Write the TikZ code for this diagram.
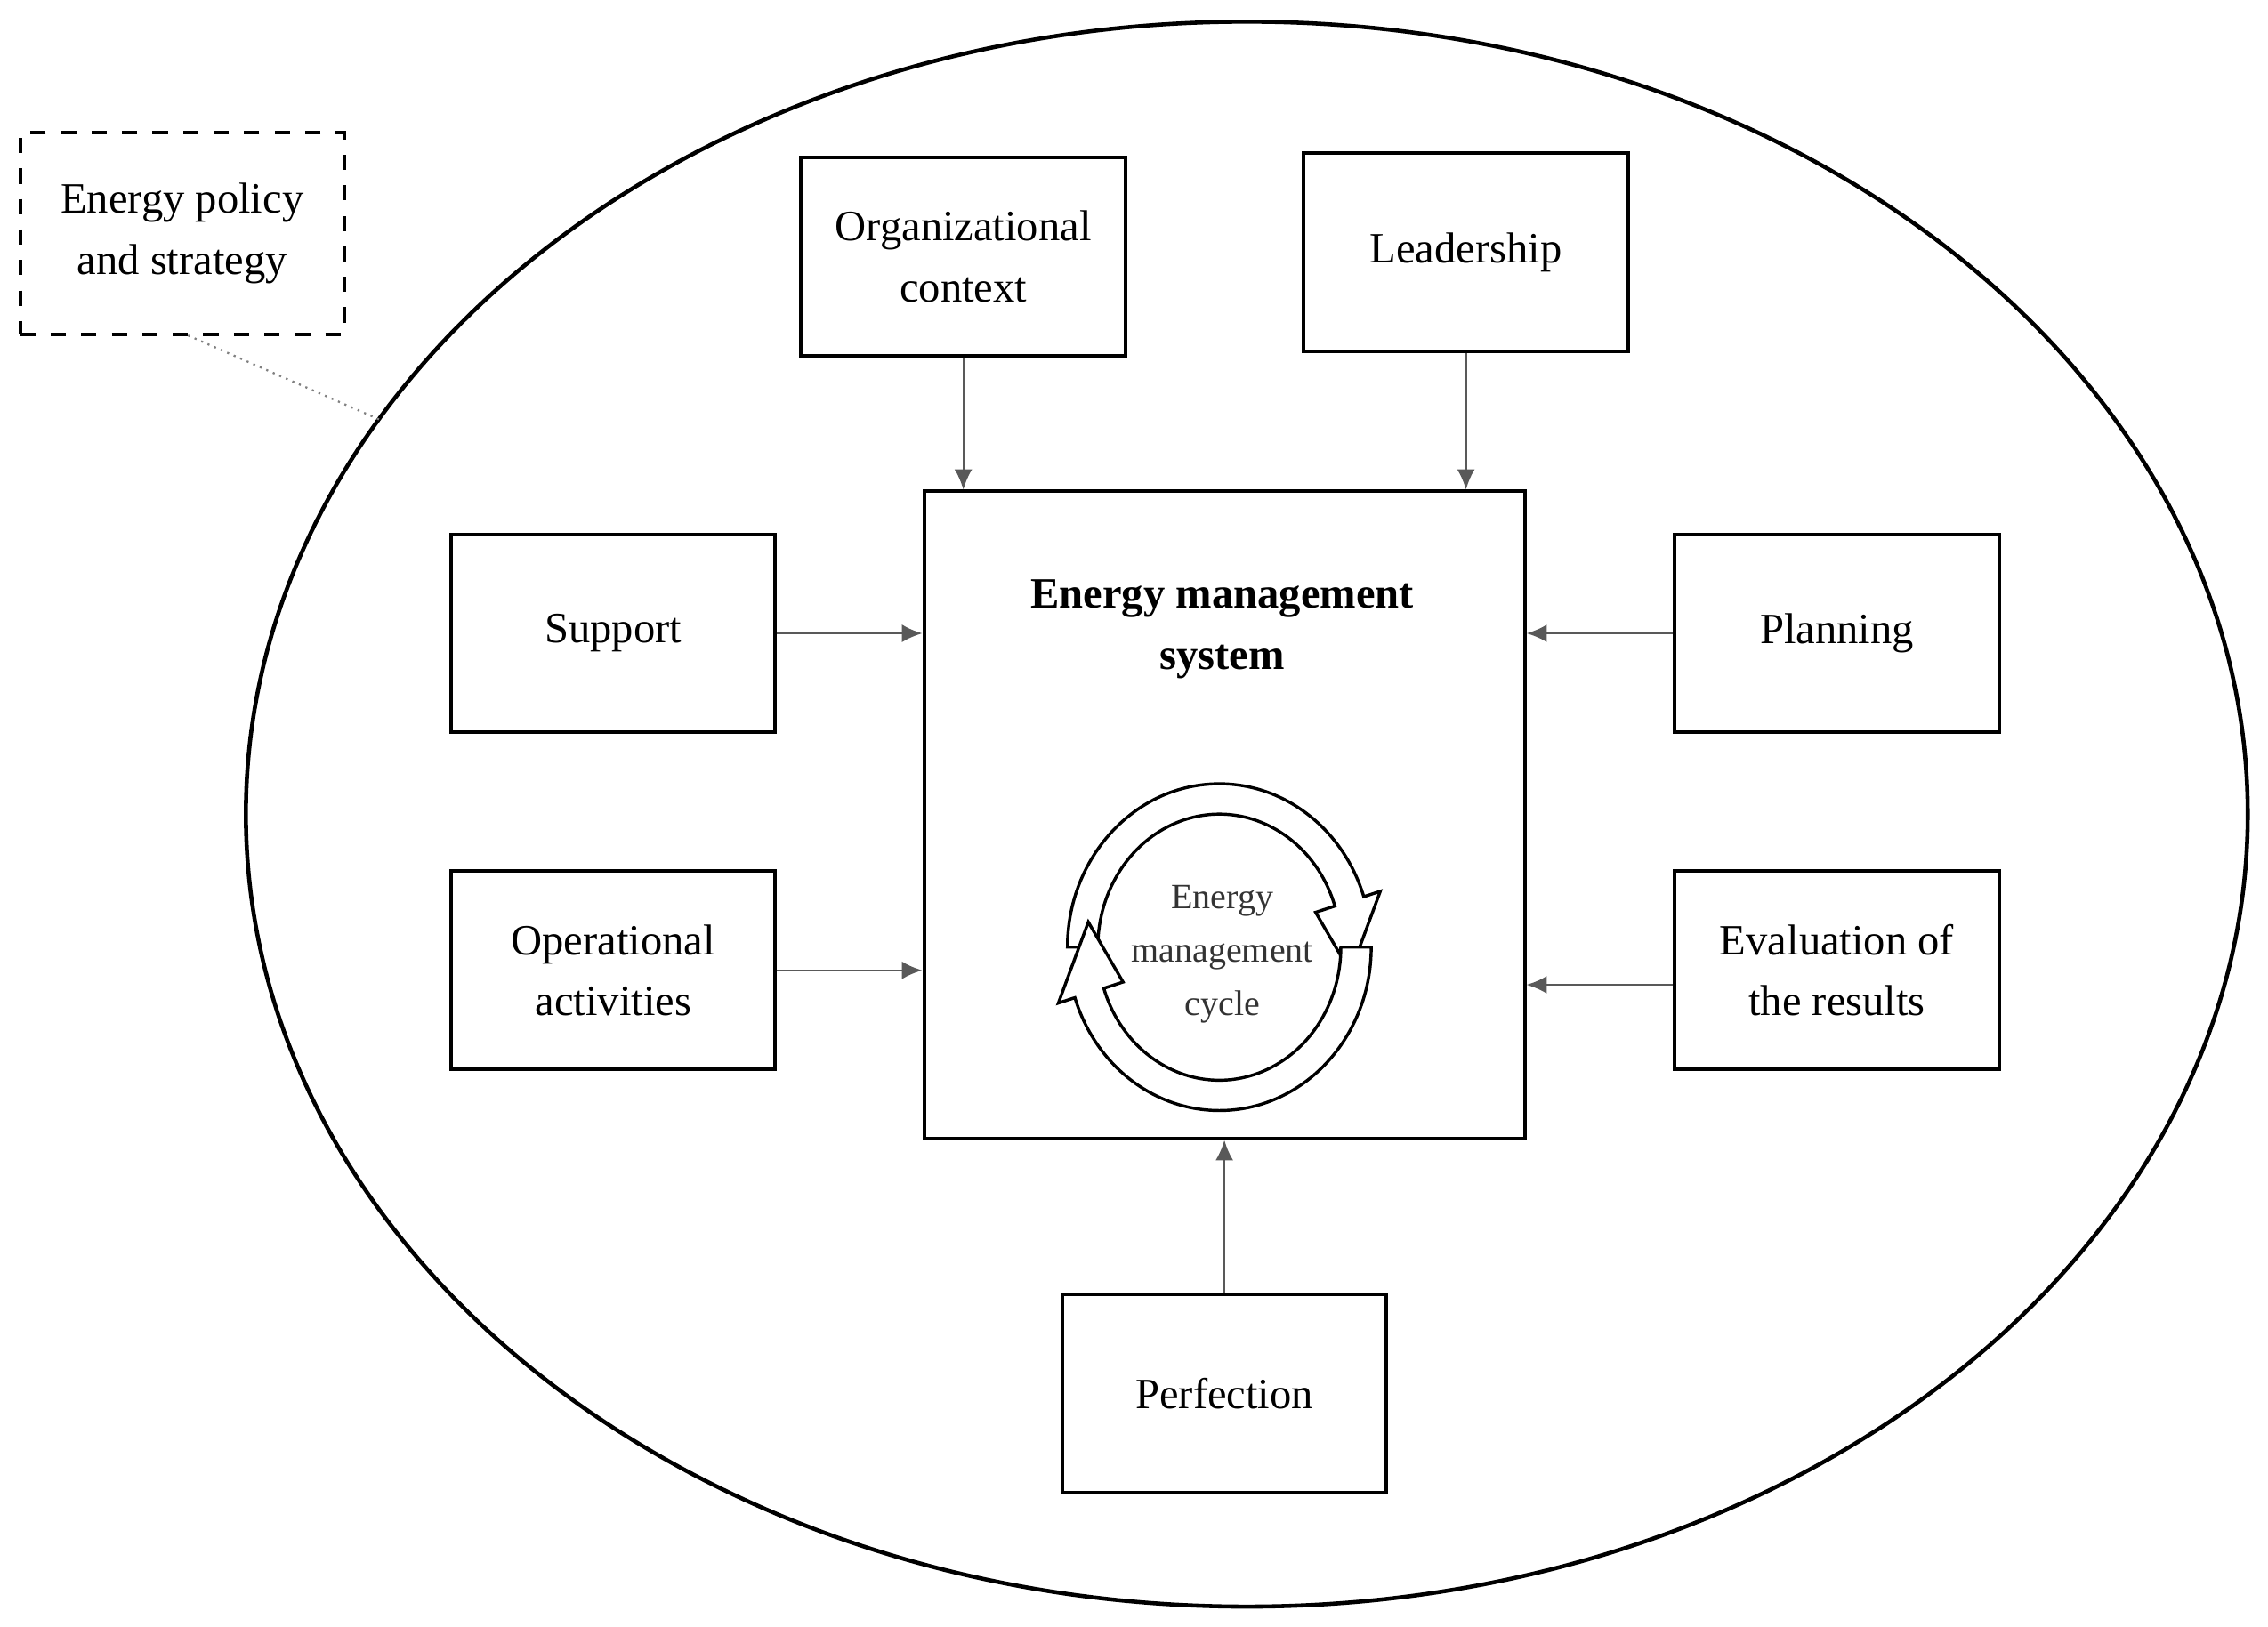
\documentclass[tikz,border=0pt]{standalone}
\usepackage{fontspec}
\setmainfont{Liberation Serif}
\usetikzlibrary{calc,arrows.meta}
\begin{document}
\begin{tikzpicture}[x=0.01cm,y=0.01cm,
  box/.style={draw,line width=0.7pt,minimum width=2.24cm,minimum height=1.37cm,align=center,inner sep=0pt,font=\fontsize{8.5}{12}\selectfont},
  arr/.style={draw=gray!70!black,line width=0.4pt,-{Latex[length=4pt,width=3.5pt]},shorten >=0pt},
  band/.style={draw,line width=0.6pt,fill=white}]
\useasboundingbox (0,0) rectangle (1568,-1125);
\draw[line width=0.8pt] (862,-563) ellipse[x radius=692,y radius=548];
\node[box,dashed,minimum height=1.39cm] (pol) at (126,-161.5) {Energy policy\\and strategy};
\coordinate (pe) at (262,-290);
\draw[densely dotted,gray] (130,-232) -- (pe);
\node[box] (org) at (666,-177.5) {Organizational\\context};
\node[box] (lead) at (1013.5,-174.5) {Leadership};
\node[box,minimum width=4.15cm,minimum height=4.47cm] (ems) at (846.5,-563.5) {};
\node[font=\fontsize{8.5}{12}\selectfont\bfseries,align=center] (title) at (845,-435) {Energy management\\system};
\node[box] (sup) at (424,-438) {Support};
\node[box] (plan) at (1270,-438) {Planning};
\node[box] (op) at (424,-671) {Operational\\activities};
\node[box] (ev) at (1270,-671) {Evaluation of\\the results};
\node[box] (per) at (846.5,-963.5) {Perfection};
\draw[arr] (org.south) -- (org.south|-ems.north);
\draw[arr] (lead.south) -- (lead.south|-ems.north);
\draw[arr] (sup.east) -- (sup.east-|ems.west);
\draw[arr] (plan.west) -- (plan.west-|ems.east);
\draw[arr] (op.east) -- (op.east-|ems.west);
\draw[arr] ($(ev.west)+(0,-10)$) -- ($(ev.west-|ems.east)+(0,-10)$);
\draw[arr] (per.north) -- (per.north|-ems.south);
\coordinate (C) at (843,-655);
\draw[band] ($(C)+(180:105 and 113)$) arc[start angle=180,end angle=18,x radius=105,y radius=113]
  -- ($(C)+(18:117 and 125)$) -- ($(C)+(-10:92 and 100)$) -- ($(C)+(18:70 and 78)$)
  -- ($(C)+(18:84 and 92)$) arc[start angle=18,end angle=180,x radius=84,y radius=92] -- cycle;
\draw[band] ($(C)+(0:105 and 113)$) arc[start angle=360,end angle=198,x radius=105,y radius=113]
  -- ($(C)+(198:117 and 125)$) -- ($(C)+(170:92 and 100)$) -- ($(C)+(198:70 and 78)$)
  -- ($(C)+(198:84 and 92)$) arc[start angle=198,end angle=360,x radius=84,y radius=92] -- cycle;
\node[font=\fontsize{7}{10.5}\selectfont,align=center,text=black!80] (cyc) at (845,-660) {Energy\\management\\cycle};
\end{tikzpicture}
\end{document}
